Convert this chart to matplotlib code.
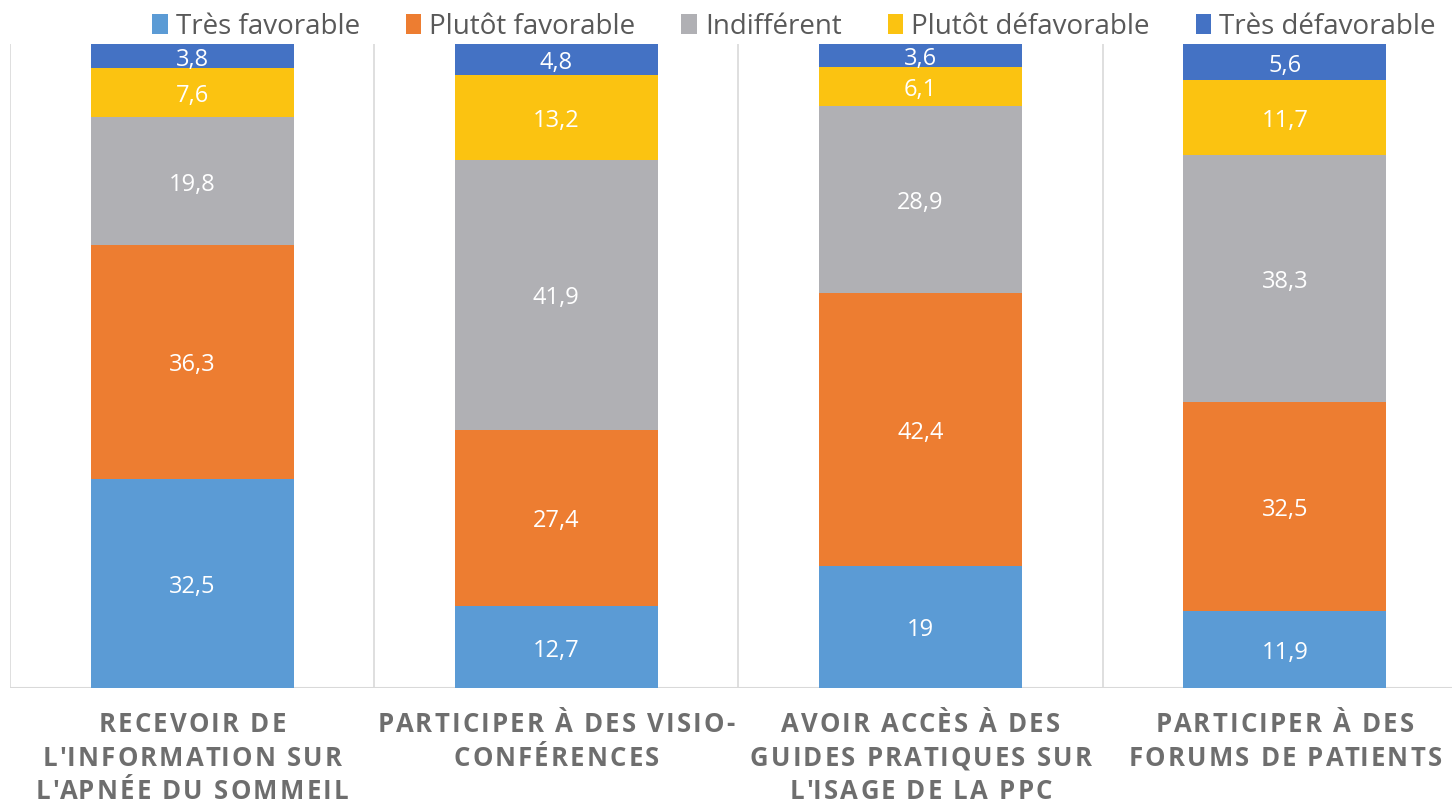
import matplotlib
matplotlib.use("Agg")
import matplotlib.pyplot as plt
from matplotlib.patches import Patch
from matplotlib.text import Text
from matplotlib.font_manager import FontProperties
import matplotlib.transforms as mtransforms
import numpy as np

categories = [
    "RECEVOIR DE\nL'INFORMATION SUR\nL'APNÉE DU SOMMEIL",
    "PARTICIPER À DES VISIO-\nCONFÉRENCES",
    "AVOIR ACCÈS À DES\nGUIDES PRATIQUES SUR\nL'ISAGE DE LA PPC",
    "PARTICIPER À DES\nFORUMS DE PATIENTS",
]
series_names = ["Très favorable", "Plutôt favorable", "Indifférent",
                "Plutôt défavorable", "Très défavorable"]
tres_favorable = [32.5, 12.7, 19, 11.9]
plutot_favorable = [36.3, 27.4, 42.4, 32.5]
indifferent = [19.8, 41.9, 28.9, 38.3]
plutot_defavorable = [7.6, 13.2, 6.1, 11.7]
tres_defavorable = [3.8, 4.8, 3.6, 5.6]
series_values = [tres_favorable, plutot_favorable, indifferent,
                 plutot_defavorable, tres_defavorable]
colors = ["#5B9BD5", "#ED7D31", "#B0B0B4", "#FBC311", "#4472C4"]

W, H = 1452, 806
DPI = 100
fig = plt.figure(figsize=(W / DPI, H / DPI), dpi=DPI)
ax = fig.add_axes([10 / W, (H - 688) / H, 1457 / W, 644 / H])

fam = ["Open Sans", "DejaVu Sans"]
x = np.arange(len(categories))
bottom = np.zeros(len(categories))
label_tr = mtransforms.offset_copy(ax.transData, fig=fig, x=0, y=-2.5, units="points")
for name, vals, col in zip(series_names, series_values, colors):
    vals = np.array(vals, dtype=float)
    ax.bar(x, vals, bottom=bottom, width=0.557, color=col, label=name, zorder=3)
    for xi, b, v in zip(x, bottom, vals):
        txt = f"{v:g}".replace(".", ",")
        ax.text(xi, b + v / 2, txt, ha="center", va="center", color="white",
                fontsize=17, family=fam, zorder=4, transform=label_tr)
    bottom += vals

ax.set_xlim(-0.5, len(categories) - 0.5)
ax.set_ylim(0, 100)
for b in np.arange(-0.5, len(categories) + 0.5, 1.0):
    ax.axvline(b, color="#D9D9D9", lw=1.2, zorder=1)
ax.axhline(0, color="#D9D9D9", lw=1.5, zorder=2)
for s in ax.spines.values():
    s.set_visible(False)
ax.set_xticks([])
ax.set_yticks([])

# letter-spaced category labels
renderer = fig.canvas.get_renderer()
fp = FontProperties(family=fam, weight="bold", size=18.5)


def text_width(s):
    t = Text(0, 0, s, fontproperties=fp)
    t.set_figure(fig)
    return t.get_window_extent(renderer).width


ref_w = text_width("H")
spacing_px = 2.2
line_px = 33.5
first_baseline_px = 732 - 688  # below axis line
base_tr = ax.transData
for xi, cat in zip(x, categories):
    for li, line in enumerate(cat.split("\n")):
        n = len(line)
        total = text_width(line) + (n - 1) * spacing_px
        dy_px = -(first_baseline_px + li * line_px)
        for ci, ch in enumerate(line):
            if ch == " ":
                continue
            pos = (text_width(line[:ci] + "H") - ref_w) if ci > 0 else 0.0
            dx_px = -total / 2 + pos + ci * spacing_px
            tr = mtransforms.offset_copy(base_tr, fig=fig, x=dx_px * 72 / DPI,
                                         y=dy_px * 72 / DPI, units="points")
            ax.text(xi, 0, ch, ha="left", va="baseline", color="#6E6E6E",
                    fontproperties=fp, transform=tr, clip_on=False)

handles = [Patch(facecolor=c, edgecolor="none") for c in colors]
leg = fig.legend(handles, series_names, loc="upper center", ncol=5,
                 bbox_to_anchor=(794 / W, 1.015), frameon=False,
                 handlelength=0.55, handleheight=0.75, handletextpad=0.3,
                 columnspacing=1.65,
                 prop={"family": fam, "size": 20})
for t in leg.get_texts():
    t.set_color("#595959")

fig.savefig("out.png", dpi=DPI)
